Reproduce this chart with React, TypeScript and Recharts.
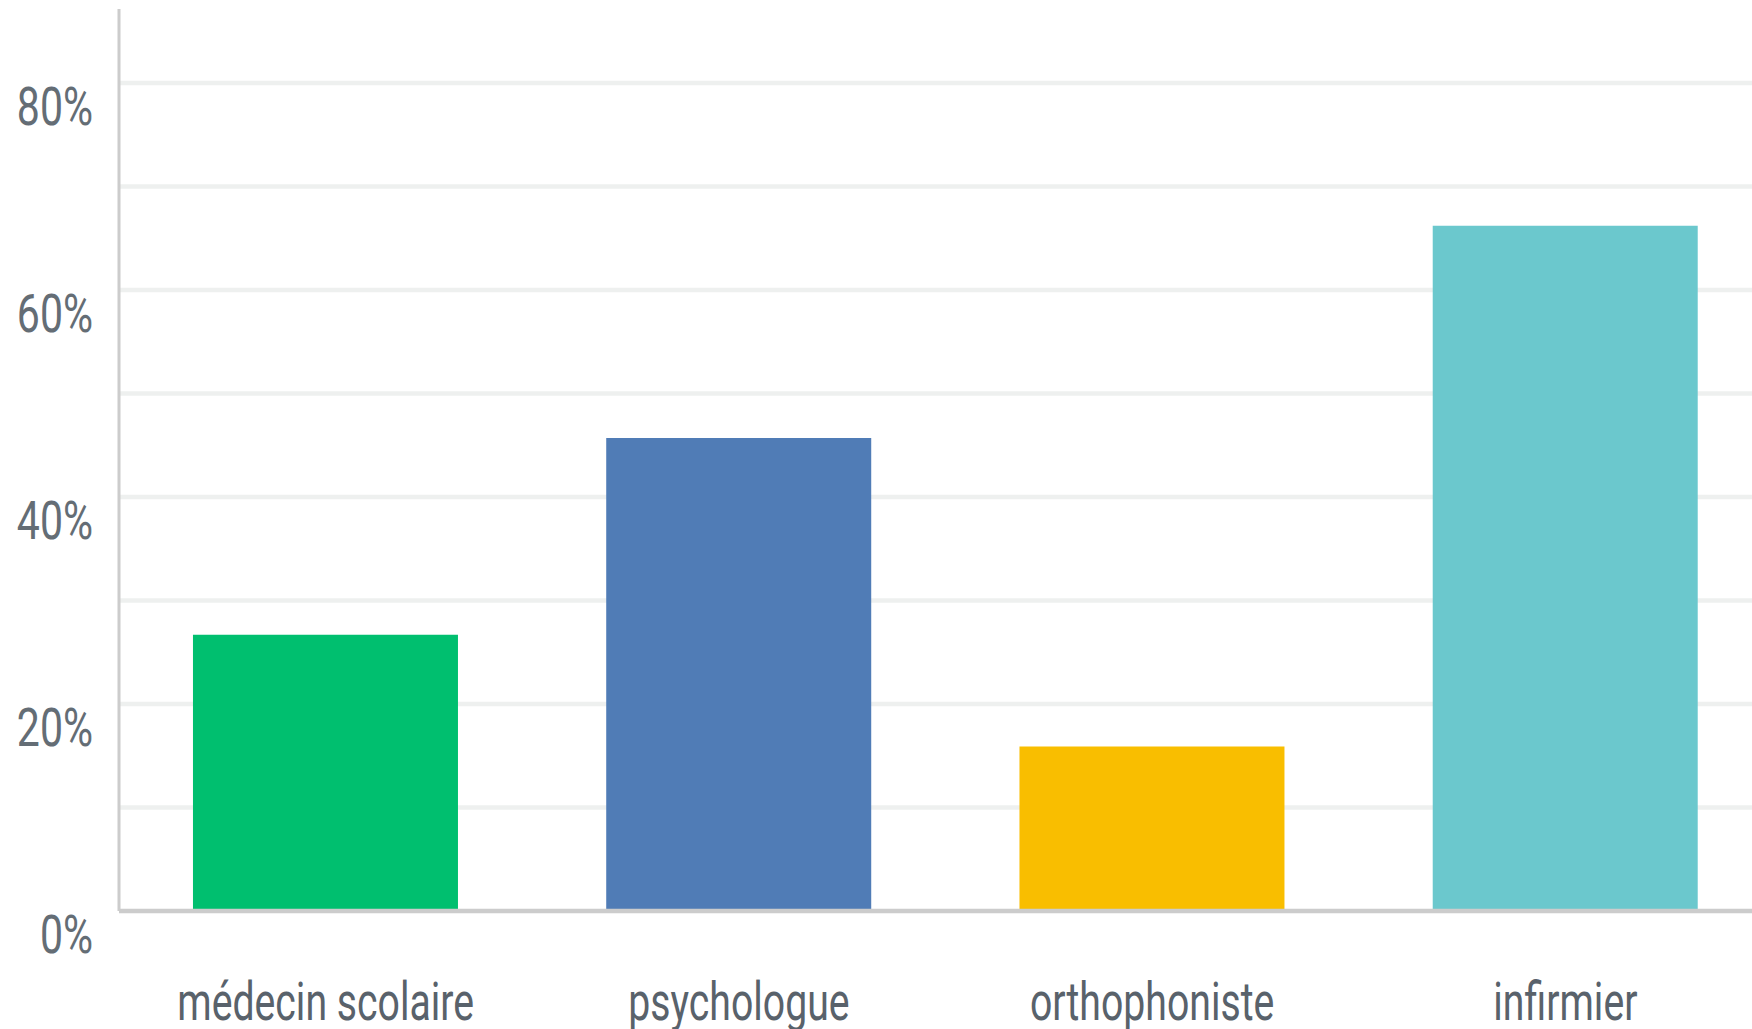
import { Bar, BarChart, CartesianGrid, Cell, XAxis, YAxis } from 'recharts'

const categories = ['médecin scolaire', 'psychologue', 'orthophoniste', 'infirmier']
const percentages = [26.7, 45.7, 15.9, 66.2]
const barColors = ['#00bf6f', '#507cb6', '#f9be00', '#6bc8cd']
const gridTicks = [0, 10, 20, 30, 40, 50, 60, 70, 80]
const labelledTicks = [0, 20, 40, 60, 80]

const data = categories.map((name, i) => ({ name, value: percentages[i] }))

function YTick({ y, payload }: any) {
  if (!labelledTicks.includes(payload.value)) return null
  return (
    <text
      transform={`translate(93, ${y + 42}) scale(0.76, 1)`}
      textAnchor="end"
      fill="#646d75"
      fontSize={54}
      fontFamily="Roboto"
    >
      {payload.value}%
    </text>
  )
}

function XTick({ x, y, payload }: any) {
  return (
    <text
      transform={`translate(${x}, ${y + 101}) scale(0.74, 1)`}
      textAnchor="middle"
      fill="#59626b"
      fontSize={53}
      fontFamily="Roboto"
    >
      {payload.value}
    </text>
  )
}

export default function App() {
  return (
    <div style={{ position: 'fixed', left: 0, top: 0, width: 1752, height: 1029, overflow: 'hidden', background: '#fff' }}>
      <BarChart
        width={1800}
        height={1029}
        data={data}
        margin={{ top: 9, right: 28, bottom: 0, left: 0 }}
        barCategoryGap="17.9%"
      >
        <CartesianGrid vertical={false} horizontalValues={gridTicks.slice(1)} stroke="#eef0ef" strokeWidth={4.5} />
        <XAxis
          dataKey="name"
          height={118}
          tickLine={false}
          axisLine={{ stroke: '#cccccc', strokeWidth: 4.5 }}
          tick={<XTick />}
          interval={0}
        />
        <YAxis
          width={119}
          domain={[0, 87.15]}
          ticks={gridTicks}
          allowDataOverflow
          tickLine={false}
          axisLine={{ stroke: '#cccccc', strokeWidth: 3 }}
          tick={<YTick />}
        />
        <Bar dataKey="value" isAnimationActive={false}>
          {data.map((d, i) => (
            <Cell key={d.name} fill={barColors[i]} />
          ))}
        </Bar>
      </BarChart>
    </div>
  )
}
